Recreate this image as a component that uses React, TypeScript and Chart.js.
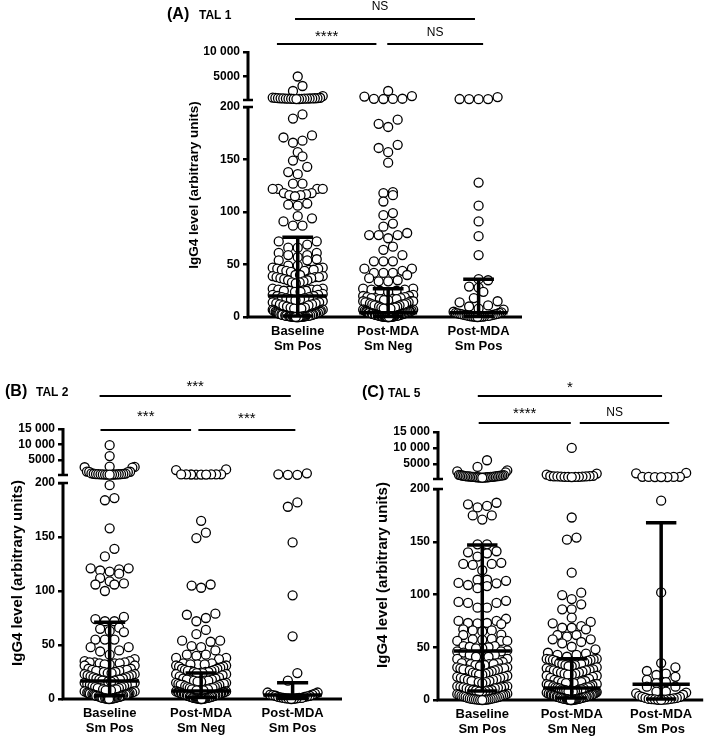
import React, { useEffect, useRef } from 'react';
import { Chart, registerables } from 'chart.js';
Chart.register(...registerables);
Chart.defaults.font.family = '"Liberation Sans", Arial, sans-serif';

// ---------- DATA ----------
const categoryLabels = [['Baseline', 'Sm Pos'], ['Post-MDA', 'Sm Neg'], ['Post-MDA', 'Sm Pos']];
const lowerTicks = [0, 50, 100, 150, 200];
const upperTicksA = [5000, 10000];
const upperTicksBC = [5000, 10000, 15000];

// TAL 1
const tal1Baseline = [
  5000, 3060, 2040, 1000, 700, 660, 620, 600, 580, 560, 540, 530, 520, 510, 500, 490, 480, 470, 460, 440, 420, 400, 380,
  193, 189, 173, 171, 168, 166, 157, 153, 149, 143, 138, 136, 127, 127, 122, 122, 122, 122, 118, 118, 117, 116, 116, 115,
  108, 107, 106, 96, 94, 91, 87, 87, 72, 72, 69, 66, 66, 61, 61, 59, 59, 57, 55, 54, 54, 49, 49,
  47, 47, 46, 46, 45, 45, 45, 44, 44, 43, 40, 40, 39, 39, 38, 38, 38, 37, 37, 36, 35, 35, 34, 33, 33, 32,
  27, 27, 26, 26, 26, 25, 25, 25, 24, 24, 22, 21, 21, 20, 20, 19, 19, 18, 18, 17, 17, 16, 15, 14, 14, 13, 13, 12, 12,
  11, 11, 10, 9, 9, 8, 8, 8, 7, 7, 7, 6, 6, 6, 5,
  5, 5, 4.5, 4, 4, 4, 3.5, 3.5, 3, 3, 3, 3, 2.5, 2.5, 2, 2, 2, 2, 2, 1.5, 1.5, 1.5, 1, 1, 1, 1, 1, 1,
  0.8, 0.8, 0.6, 0.6, 0.5, 0.5, 0.5, 0.4, 0.3, 0.3, 0.2, 0.2, 0.1, 0.1, 0, 0, 0, 0,
];
const tal1PostNeg = [
  2040, 1000, 900, 460, 440, 420, 400,
  188, 184, 181, 164, 161, 157, 147, 119, 118, 116, 110, 99, 97, 89, 86, 80, 78, 78, 78, 75, 67, 64, 59, 53, 53, 53,
  46, 46, 44, 42, 42, 42, 40, 37, 35, 34, 34,
  27, 27, 26, 26, 25, 25, 24, 21, 20, 20, 19, 19, 18, 18, 18, 17, 17, 17, 16, 16, 15, 15, 15, 14, 14, 14, 13, 13,
  12, 12, 12, 11, 11, 11, 10, 10, 9, 9, 9, 8, 8, 8, 8, 7, 7, 7, 7,
  6, 6, 6, 6, 5.5, 5.5, 5, 5, 5, 5, 4.5, 4.5, 4.5, 4, 4, 4, 4, 4, 3.5, 3.5, 3.5, 3, 3, 3, 3, 3, 2.5, 2.5, 2.5,
  2, 2, 2, 2, 2, 1.5, 1.5, 1.5, 1.5, 1, 1, 1, 1, 1, 0.8, 0.8, 0.6, 0.6, 0.5, 0.5, 0.5, 0.4, 0.4, 0.3, 0.3,
  0.2, 0.2, 0.1, 0.1, 0, 0, 0,
];
const tal1PostPos = [
  800, 400, 390, 380, 360,
  128, 106, 91, 77, 59, 36, 35, 29, 28, 24, 18, 15, 14, 11, 10, 8, 7,
  5, 4.5, 4, 4, 3.5, 3, 3, 2.5, 2.5, 2, 2, 1.5, 1.5, 1, 1, 1, 0.7, 0.5, 0.5, 0.3, 0.2, 0.1, 0,
];
const tal1Median = [20, 4, 4];
const tal1Q1 = [1, 0.5, 0.5];
const tal1Q3 = [76, 27, 36];

// TAL 2
const tal2Baseline = [
  9800, 6300, 2900, 2800, 2700, 2600, 1300, 1250, 1200, 1100, 700, 650, 600, 550, 500, 480, 460, 440, 420, 400,
  380, 360, 350, 340, 330, 320,
  198, 186, 184, 158, 139, 132, 121, 121, 120, 119, 118, 116, 112, 109, 107, 106, 106, 100, 76, 74, 72, 72, 66, 65,
  63, 62, 55, 55, 55, 48, 48, 45, 44, 41, 37,
  35, 35, 34, 34, 34, 33, 33, 33, 32, 32, 31, 31, 28, 28, 27, 27, 27, 26, 26, 26, 25, 25, 24, 24, 23, 23, 22, 22,
  21, 21, 20, 20, 19, 19, 18, 18, 18, 17, 17, 17, 16, 16, 15, 15, 14, 14, 14, 13, 13, 12, 12, 11, 11, 10, 10, 10,
  9, 9, 9, 8, 8, 8, 7, 7, 7, 7,
  6, 6, 6, 5.5, 5.5, 5, 5, 5, 4.5, 4.5, 4, 4, 4, 3.5, 3.5, 3, 3, 3, 2.5, 2.5, 2, 2, 2, 1.5, 1.5, 1, 1, 1,
  0.8, 0.6, 0.5, 0.4, 0.3, 0.2, 0.1, 0,
];
const tal2PostNeg = [
  2000, 1800, 420, 390, 370, 350, 340, 350, 360, 380, 400,
  165, 154, 149, 106, 105, 103, 79, 78, 75, 72, 64, 60, 54, 54, 53, 49, 48, 45, 41, 41, 40, 38, 38, 37,
  33, 33, 32, 32, 32, 31, 31, 30, 30, 29, 28, 28, 27, 27, 26, 26, 26, 25, 25, 25, 24, 24, 24, 23, 23, 22, 21, 20,
  19, 19, 18, 18, 18, 17, 17, 17, 16, 16, 15, 15, 14, 14, 14, 13, 13, 13, 12, 12, 11, 11, 10, 10, 10, 9, 9, 9, 9,
  8, 8, 8, 8,
  7, 7, 7, 7, 6.5, 6.5, 6, 6, 6, 6, 5.5, 5.5, 5, 5, 5, 5, 4.5, 4.5, 4, 4, 4, 4, 3.5, 3.5, 3, 3, 3, 3, 2.5, 2.5,
  2, 2, 2, 2, 1.5, 1.5, 1.5, 1, 1, 1, 1, 0.8, 0.8, 0.6, 0.5, 0.5, 0.4, 0.3, 0.2, 0.1, 0, 0,
];
const tal2PostPos = [
  750, 420, 260, 250,
  182, 178, 145, 96, 58, 24, 17, 6, 6, 5, 4, 4, 3.5, 3, 3, 2.5, 2, 2, 1.5, 1, 1, 1, 0.5, 0.5, 0.3, 0.2, 0,
];
const tal2Median = [16.7, 7.4, 3.7];
const tal2Q1 = [3, 1.5, 0.5];
const tal2Q3 = [71, 24, 15];

// TAL 5
const tal5Baseline = [
  6100, 4000, 2900, 2600, 2300, 1500, 1450, 1400, 1350, 1300, 1250, 1200, 1150, 1100, 1100, 1050, 1000, 1000, 950,
  950, 900, 900, 850, 850, 800, 800, 750, 750, 700, 700, 650, 650, 600,
  187, 185.5, 184, 182.6, 175, 175, 171, 147.6, 147.6, 141, 140, 139, 136, 130, 129, 129, 128, 123, 114, 114, 113,
  111, 110.6, 109, 108, 106, 94, 93, 92, 92, 87.5, 87.5, 77, 75, 75, 73, 73, 72.6, 72, 67, 66, 66, 65, 62, 61.6, 58,
  57.5, 57, 56, 56, 56, 51, 51, 50.5, 50, 49, 49, 47, 46, 46, 45, 43, 42.7, 41, 41, 41, 39, 38.9,
  36, 35, 35, 35, 34, 34, 34, 33, 33, 32, 31, 31, 30, 30, 30, 29, 29, 29, 28, 28, 27, 26, 26, 25, 25, 24, 24, 23,
  22, 22, 21, 21, 20, 20, 19, 19, 18, 18, 18, 17, 17, 16, 13, 13, 12.5, 12.5, 12, 12, 11.5, 11, 11, 10, 9.5, 9.5,
  9, 9, 8.5, 8, 8,
  6, 5.5, 5, 5, 4.5, 4, 4, 3.5, 3, 3, 2.5, 2, 2, 1.5, 1.5, 1, 1, 0.8, 0.6, 0.5, 0.4, 0.3, 0.2, 0.1, 0,
];
const tal5PostNeg = [
  10000, 1900, 1600, 1200, 1150, 1100, 1050, 1000, 1000, 950, 950, 900, 900, 850, 850, 800,
  173, 154, 152, 120.7, 101.7, 99.5, 95.7, 90.7, 86, 86, 78, 74, 72.7, 70, 68.5, 68.5, 67, 61.6, 61.6, 60, 57.5,
  57.5, 55, 53.7, 50.5, 48, 44.8, 44, 42.7, 42.7, 41,
  39, 39, 38.5, 38.5, 38, 38, 37, 37, 36, 35, 34, 34, 34, 33, 33, 32, 32, 31, 30, 29, 28.4, 28.4, 28, 28, 27, 27,
  26, 26, 25, 25, 24, 24, 23, 23, 22, 21, 20, 19, 18, 18, 17, 17, 17, 16, 16, 16, 15, 15, 15, 14, 14, 14, 13, 13,
  12, 12, 12, 11.5, 11, 11, 10, 10, 10, 9.5, 9, 9, 8.5, 8, 8, 8, 7.5, 7, 7, 7,
  6.5, 6, 6, 6, 5.5, 5.5, 5, 5, 5, 5, 4.5, 4.5, 4, 4, 4, 4, 3.5, 3.5, 3, 3, 3, 3, 2.5, 2.5, 2.5, 2, 2, 2, 2,
  1.5, 1.5, 1.5, 1, 1, 1, 1, 0.8, 0.8, 0.6, 0.5, 0.5, 0.4, 0.3, 0.2, 0.1, 0, 0,
];
const tal5PostPos = [
  2100, 2000, 900, 900, 860, 850, 820, 820, 800,
  189, 102, 35, 31, 27.5, 25, 23.7, 22, 19, 17, 16, 12.6, 12.6, 8, 8, 7, 6.3, 5, 4, 3, 3, 2, 2, 1.5, 1, 1, 0.8,
  0.5, 0.5, 0.3, 0.2, 0.1,
];
const tal5Median = [46.5, 11.4, 15];
const tal5Q1 = [8.5, 2, 1];
const tal5Q3 = [147, 39, 168];

// ---------- PANEL SETTINGS ----------
type Bracket = { x0: number; x1: number; y: number; label: string; ly: number; lx?: number };
type Panel = {
  left: number; top: number; w: number; h: number;
  pad: { top: number; right: number; bottom: number; left: number };
  yWidth: number; xHeight: number;
  xMin: number; xMax: number;
  lowerMax: number; upperMax: number; upperTicks: number[];
  wUpper: number; wLower: number;
  groups: number[][]; median: number[]; q1: number[]; q3: number[];
  brackets: Bracket[];
  letter: string; tal: string; letterX: number; talX: number; titleY: number;
  axisTitleX: number; axisTitleY: number; axisTitleSize: number;
};

const panels: Panel[] = [
  {
    left: 150, top: 0, w: 380, h: 360,
    pad: { top: 52, right: 8, bottom: 3, left: 0 }, yWidth: 98, xHeight: 40,
    xMin: -0.55, xMax: 2.48, lowerMax: 206.7, upperMax: 10000, upperTicks: upperTicksA,
    wUpper: 48, wLower: 217,
    groups: [tal1Baseline, tal1PostNeg, tal1PostPos], median: tal1Median, q1: tal1Q1, q3: tal1Q3,
    brackets: [
      { x0: -0.03, x1: 1.96, y: 19, label: 'NS', ly: 7, lx: 0.91 },
      { x0: -0.23, x1: 0.87, y: 44, label: '****', ly: 33 },
      { x0: 0.99, x1: 2.05, y: 44, label: 'NS', ly: 33 },
    ],
    letter: '(A)', tal: 'TAL 1', letterX: 17, talX: 49, titleY: 15,
    axisTitleX: 44, axisTitleY: 185, axisTitleSize: 13.5,
  },
  {
    left: 0, top: 360, w: 355, h: 378,
    pad: { top: 69, right: 13, bottom: 0, left: 0 }, yWidth: 63, xHeight: 39,
    xMin: -0.51, xMax: 2.54, lowerMax: 207.4, upperMax: 15000, upperTicks: upperTicksBC,
    wUpper: 46, wLower: 224,
    groups: [tal2Baseline, tal2PostNeg, tal2PostPos], median: tal2Median, q1: tal2Q1, q3: tal2Q3,
    brackets: [
      { x0: -0.11, x1: 1.98, y: 36, label: '***', ly: 23 },
      { x0: -0.1, x1: 0.89, y: 70, label: '***', ly: 53 },
      { x0: 0.97, x1: 2.03, y: 70, label: '***', ly: 55 },
    ],
    letter: '(B)', tal: 'TAL 2', letterX: 5, talX: 36, titleY: 32,
    axisTitleX: 18, axisTitleY: 213, axisTitleSize: 15,
  },
  {
    left: 355, top: 360, w: 354, h: 378,
    pad: { top: 72, right: 1, bottom: 0, left: 0 }, yWidth: 83, xHeight: 38,
    xMin: -0.495, xMax: 2.47, lowerMax: 209.5, upperMax: 15000, upperTicks: upperTicksBC,
    wUpper: 47, wLower: 221,
    groups: [tal5Baseline, tal5PostNeg, tal5PostPos], median: tal5Median, q1: tal5Q1, q3: tal5Q3,
    brackets: [
      { x0: -0.05, x1: 2.01, y: 36, label: '*', ly: 24 },
      { x0: -0.04, x1: 0.99, y: 63, label: '****', ly: 50 },
      { x0: 1.09, x1: 2.09, y: 63, label: 'NS', ly: 53, lx: 1.48 },
    ],
    letter: '(C)', tal: 'TAL 5', letterX: 7, talX: 33, titleY: 33,
    axisTitleX: 28, axisTitleY: 215, axisTitleSize: 15,
  },
];

const FONT = '"Liberation Sans", Arial, sans-serif';
const fmtTick = (v: number) => (v >= 10000 ? String(v).replace(/(\d+)(\d{3})$/, '$1 $2') : String(v));

// ---------- PLUGIN ----------
const annotPlugin = {
  id: 'annot',
  beforeDatasetsDraw(chart: any, _args: any, opts: any) {
    const p: Panel = opts.panel;
    const xs = chart.scales.x;
    const yLow = chart.scales.yLow;
    const yHigh = chart.scales.yHigh;
    // swarm arrangement (horizontal spread only)
    const rowH = 8, dotGap = 9.5, maxHalf = 25;
    chart.data.datasets.forEach((ds: any, di: number) => {
      const meta = chart.getDatasetMeta(di);
      const xc = xs.getPixelForValue(ds.cat);
      const pts = meta.data.slice().sort((a: any, b: any) => b.y - a.y);
      let i = 0;
      while (i < pts.length) {
        const y0 = pts[i].y;
        let j = i;
        while (j < pts.length && y0 - pts[j].y < rowH) j++;
        const row = pts.slice(i, j);
        const n = row.length;
        const s = n > 1 ? Math.min(dotGap, (2 * maxHalf) / (n - 1)) : 0;
        const offs: number[] = [];
        for (let k = 0; k < n; k++) offs.push((k - (n - 1) / 2) * s);
        offs.sort((a, b) => Math.abs(a) - Math.abs(b) || a - b);
        row.forEach((el: any, k: number) => { el.x = xc + offs[k]; });
        i = j;
      }
    });
    // axes
    const ctx = chart.ctx;
    const ax = chart.chartArea.left;
    const y0 = yLow.getPixelForValue(0);
    const y200 = yLow.getPixelForValue(200);
    const yuB = yHigh.getPixelForValue(200);
    const yuT = yHigh.getPixelForValue(p.upperMax);
    ctx.save();
    ctx.strokeStyle = '#000';
    ctx.lineCap = 'butt';
    ctx.lineWidth = 3;
    ctx.beginPath();
    ctx.moveTo(ax, y0 + 1.5); ctx.lineTo(ax, y200);
    ctx.moveTo(ax, yuB); ctx.lineTo(ax, yuT - 1);
    ctx.moveTo(ax - 1.5, y0); ctx.lineTo(chart.chartArea.right, y0);
    ctx.stroke();
    ctx.lineWidth = 2.5;
    ctx.beginPath();
    ctx.moveTo(ax - 5, yuB); ctx.lineTo(ax + 5, yuB);
    ctx.moveTo(ax - 5, y200); ctx.lineTo(ax + 5, y200);
    ctx.stroke();
    ctx.restore();
  },
  afterDatasetsDraw(chart: any, _args: any, opts: any) {
    const p: Panel = opts.panel;
    const xs = chart.scales.x;
    const yLow = chart.scales.yLow;
    const ctx = chart.ctx;
    ctx.save();
    ctx.strokeStyle = '#000';
    ctx.lineWidth = 3.5;
    ctx.lineCap = 'butt';
    for (let i = 0; i < 3; i++) {
      const xc = xs.getPixelForValue(i);
      const ym = yLow.getPixelForValue(p.median[i]);
      const y1 = yLow.getPixelForValue(p.q1[i]);
      const y3 = yLow.getPixelForValue(p.q3[i]);
      ctx.beginPath();
      ctx.moveTo(xc, y1); ctx.lineTo(xc, y3);
      ctx.moveTo(xs.getPixelForValue(i - 0.32), ym); ctx.lineTo(xs.getPixelForValue(i + 0.32), ym);
      ctx.moveTo(xs.getPixelForValue(i - 0.17), y3); ctx.lineTo(xs.getPixelForValue(i + 0.17), y3);
      ctx.moveTo(xs.getPixelForValue(i - 0.17), y1); ctx.lineTo(xs.getPixelForValue(i + 0.17), y1);
      ctx.stroke();
    }
    ctx.restore();
  },
  afterDraw(chart: any, _args: any, opts: any) {
    const p: Panel = opts.panel;
    const xs = chart.scales.x;
    const ctx = chart.ctx;
    ctx.save();
    ctx.fillStyle = '#000';
    ctx.strokeStyle = '#000';
    // significance brackets
    p.brackets.forEach((b) => {
      ctx.lineWidth = 2.2;
      ctx.beginPath();
      ctx.moveTo(xs.getPixelForValue(b.x0), b.y);
      ctx.lineTo(xs.getPixelForValue(b.x1), b.y);
      ctx.stroke();
      const isStar = b.label.includes('*');
      ctx.font = (isStar ? '15px ' : '12px ') + FONT;
      ctx.textAlign = 'center';
      ctx.textBaseline = 'middle';
      const lx = xs.getPixelForValue(b.lx !== undefined ? b.lx : (b.x0 + b.x1) / 2);
      ctx.fillText(b.label, lx, b.ly + (isStar ? 4 : 0));
    });
    // panel title
    ctx.textAlign = 'left';
    ctx.textBaseline = 'middle';
    ctx.font = 'bold 16px ' + FONT;
    ctx.fillText(p.letter, p.letterX, p.titleY);
    ctx.font = 'bold 12px ' + FONT;
    ctx.fillText(p.tal, p.talX, p.titleY + 1);
    // axis title
    ctx.translate(p.axisTitleX, p.axisTitleY);
    ctx.rotate(-Math.PI / 2);
    ctx.textAlign = 'center';
    ctx.font = 'bold ' + p.axisTitleSize + 'px ' + FONT;
    ctx.fillText('IgG4 level (arbitrary units)', 0, 0);
    ctx.restore();
  },
};

function buildConfig(p: Panel): any {
  const datasets: any[] = [];
  p.groups.forEach((vals, cat) => {
    datasets.push({
      cat, yAxisID: 'yLow', clip: false,
      data: vals.filter((v) => v <= 200).map((v) => ({ x: cat, y: v })),
    });
    datasets.push({
      cat, yAxisID: 'yHigh', clip: false,
      data: vals.filter((v) => v > 200).map((v) => ({ x: cat, y: v })),
    });
  });
  const yCommon = (ticks: number[]) => ({
    type: 'linear',
    position: 'left',
    stack: 'yy',
    afterBuildTicks: (s: any) => { s.ticks = ticks.map((v) => ({ value: v })); },
    afterFit: (s: any) => { s.width = p.yWidth; },
    grid: { drawOnChartArea: false, color: '#000', lineWidth: 2.5, tickLength: 5 },
    border: { display: false },
    ticks: {
      callback: (v: number) => fmtTick(v),
      font: { size: 12, weight: 'bold' },
      color: '#000',
      padding: 3,
      autoSkip: false,
    },
  });
  return {
    type: 'scatter',
    data: { datasets },
    options: {
      responsive: false,
      maintainAspectRatio: false,
      animation: false,
      events: [],
      layout: { padding: p.pad },
      elements: {
        point: { radius: 4.5, borderWidth: 1.3, backgroundColor: '#ffffff', borderColor: '#000000' },
      },
      plugins: {
        legend: { display: false },
        tooltip: { enabled: false },
        annot: { panel: p },
      },
      scales: {
        yLow: { ...yCommon(lowerTicks), min: 0, max: p.lowerMax, stackWeight: p.wLower },
        yHigh: { ...yCommon(p.upperTicks), min: 200, max: p.upperMax, stackWeight: p.wUpper },
        x: {
          type: 'linear',
          position: 'bottom',
          min: p.xMin,
          max: p.xMax,
          grid: { display: false, drawTicks: false },
          border: { display: false },
          afterBuildTicks: (s: any) => { s.ticks = [0, 1, 2].map((v) => ({ value: v })); },
          afterFit: (s: any) => { s.height = p.xHeight; },
          ticks: {
            callback: (_v: number, i: number) => categoryLabels[i],
            font: { size: 13, weight: 'bold', lineHeight: 1.15 },
            color: '#000',
            padding: 7,
            maxRotation: 0,
            autoSkip: false,
          },
        },
      },
    },
    plugins: [annotPlugin],
  };
}

function PanelChart({ p }: { p: Panel }) {
  const ref = useRef<HTMLCanvasElement>(null);
  useEffect(() => {
    const chart = new Chart(ref.current as HTMLCanvasElement, buildConfig(p));
    return () => chart.destroy();
  }, [p]);
  return (
    <canvas
      ref={ref}
      width={p.w}
      height={p.h}
      style={{ position: 'absolute', left: p.left, top: p.top, width: p.w, height: p.h }}
    />
  );
}

export default function App() {
  return (
    <div style={{ position: 'fixed', left: 0, top: 0, width: 709, height: 738, background: '#fff', overflow: 'hidden' }}>
      {panels.map((p, i) => (
        <PanelChart key={i} p={p} />
      ))}
    </div>
  );
}
